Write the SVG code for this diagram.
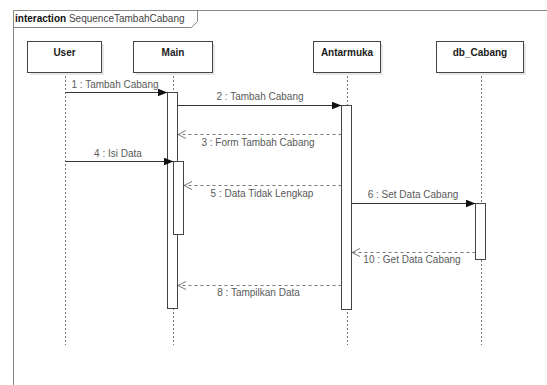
<svg xmlns="http://www.w3.org/2000/svg" width="547" height="385" viewBox="0 0 547 385">
<style>
text{font-family:"Liberation Sans",Arial,sans-serif;font-size:10px}
.lbl{fill:#595959;text-anchor:middle}
.name{font-weight:bold;fill:#1a1a1a;text-anchor:middle}
.box{fill:#fff;stroke:#444;stroke-width:1}
.shadow{fill:#e6e6e6}
.life{stroke:#777;stroke-width:1;stroke-dasharray:2,2;fill:none}
.act{fill:#fff;stroke:#444;stroke-width:1}
.msg{stroke:#333;stroke-width:1;fill:none}
.ret{stroke:#777;stroke-width:1;stroke-dasharray:3,3;fill:none}
.frame{stroke:#888;stroke-width:1;fill:none}
</style>
<defs>
<marker id="filled" viewBox="0 0 10 8" refX="10" refY="4" markerWidth="10" markerHeight="8" markerUnits="userSpaceOnUse" orient="auto">
<path d="M0,0 L10,4 L0,8 Z" fill="#111"/>
</marker>
<marker id="open" viewBox="0 0 10 10" refX="9" refY="5" markerWidth="10" markerHeight="10" markerUnits="userSpaceOnUse" orient="auto">
<path d="M1,1 L9,5 L1,9" fill="none" stroke="#777" stroke-width="1"/>
</marker>
</defs>
<rect width="547" height="385" fill="#fff"/>
<g id="frame">
<path class="frame" d="M13.5,400 L13.5,10.5 L560,10.5"/>
<path class="frame" d="M13.5,27.5 L191.5,27.5 L197.5,21.5 L197.5,10.5"/>
<text x="15" y="22"><tspan font-weight="bold" fill="#111">interaction</tspan><tspan fill="#444"> SequenceTambahCabang</tspan></text>
</g>
<g id="lifelines">
<line class="life" x1="65.5" y1="72" x2="65.5" y2="345"/>
<line class="life" x1="173.5" y1="72" x2="173.5" y2="345"/>
<line class="life" x1="347.5" y1="72" x2="347.5" y2="345"/>
<line class="life" x1="481.5" y1="72" x2="481.5" y2="345"/>
</g>
<g id="User">
<rect class="shadow" x="30" y="44" width="74" height="31"/>
<rect class="box" x="27.5" y="41.5" width="74" height="31"/>
<text class="name" x="64.5" y="56">User</text>
</g>
<g id="Main">
<rect class="shadow" x="136" y="44" width="79" height="31"/>
<rect class="box" x="133.5" y="41.5" width="79" height="31"/>
<text class="name" x="173" y="56">Main</text>
</g>
<g id="Antarmuka">
<rect class="shadow" x="316" y="44" width="67" height="31"/>
<rect class="box" x="313.5" y="41.5" width="67" height="31"/>
<text class="name" x="347" y="56">Antarmuka</text>
</g>
<g id="db_Cabang">
<rect class="shadow" x="439" y="44" width="87" height="31"/>
<rect class="box" x="436.5" y="41.5" width="87" height="31"/>
<text class="name" x="480" y="56">db_Cabang</text>
</g>
<g id="activations">
<rect class="act" x="167.5" y="92.5" width="10" height="216"/>
<rect class="act" x="173.5" y="161.5" width="10" height="73"/>
<rect class="act" x="341.5" y="105.5" width="10" height="204"/>
<rect class="act" x="475.5" y="203.5" width="10" height="56"/>
</g>
<g id="connectors">
<line class="msg" x1="65.5" y1="92.5" x2="167.5" y2="92.5" marker-end="url(#filled)"/>
<text class="lbl" x="115" y="88">1 : Tambah Cabang</text>
<line class="msg" x1="177.5" y1="105.5" x2="341.5" y2="105.5" marker-end="url(#filled)"/>
<text class="lbl" x="260" y="100">2 : Tambah Cabang</text>
<line class="ret" x1="341.5" y1="134.5" x2="178" y2="134.5" marker-end="url(#open)"/>
<text class="lbl" x="258" y="146">3 : Form Tambah Cabang</text>
<line class="msg" x1="65.5" y1="161.5" x2="173.5" y2="161.5" marker-end="url(#filled)"/>
<text class="lbl" x="118" y="157">4 : Isi Data</text>
<line class="ret" x1="341.5" y1="185.5" x2="184" y2="185.5" marker-end="url(#open)"/>
<text class="lbl" x="262" y="197">5 : Data Tidak Lengkap</text>
<line class="msg" x1="351.5" y1="203.5" x2="475.5" y2="203.5" marker-end="url(#filled)"/>
<text class="lbl" x="413" y="198">6 : Set Data Cabang</text>
<line class="ret" x1="475.5" y1="252.5" x2="352" y2="252.5" marker-end="url(#open)"/>
<text class="lbl" x="412" y="263">10 : Get Data Cabang</text>
<line class="ret" x1="341.5" y1="285.5" x2="178" y2="285.5" marker-end="url(#open)"/>
<text class="lbl" x="258.5" y="296">8 : Tampilkan Data</text>
</g>
</svg>
